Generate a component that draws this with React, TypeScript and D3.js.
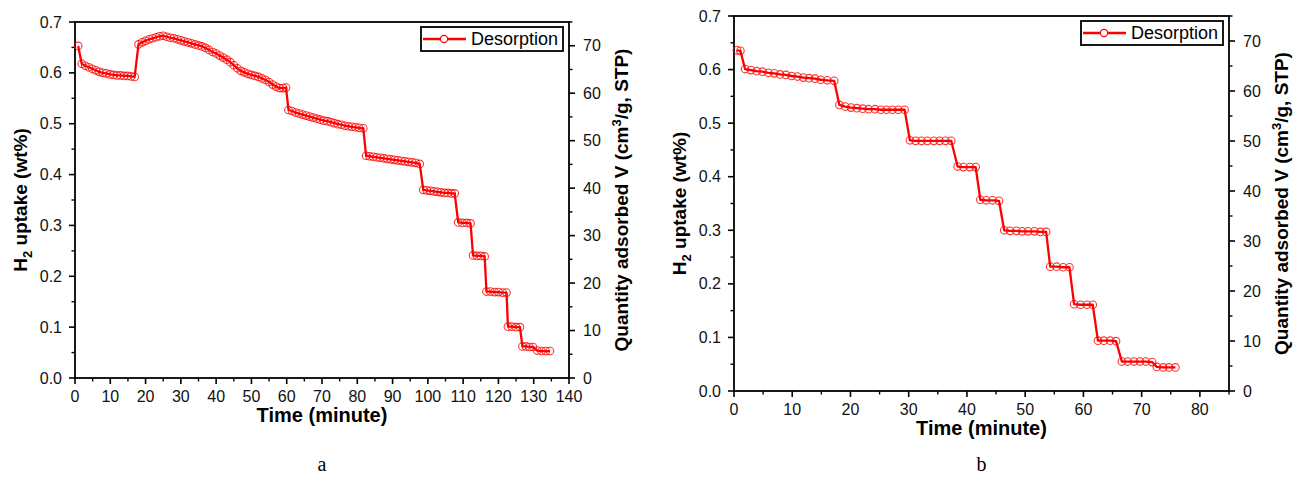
import * as React from "react";
import * as d3 from "d3";

// Run a: desorption over ~135 minutes
const timeA = [
  0.9, 1.9, 2.9, 3.9, 4.9, 5.9, 6.9, 7.9, 8.9, 9.9, 10.9, 11.9, 12.9, 13.9, 14.9, 15.9, 16.9,
  18.0, 19.0, 20.0, 21.0, 22.0, 23.0, 24.0, 25.0, 26.0, 27.0, 28.0, 29.0, 30.0, 31.0, 32.0,
  33.0, 34.0, 35.0, 36.0, 37.0, 38.0, 39.0, 40.0, 41.0, 42.0, 43.0, 44.0, 45.0, 46.0, 47.0,
  48.0, 49.0, 50.0, 51.0, 52.0, 53.0, 54.0, 55.0, 56.0, 57.0, 58.0, 59.0, 59.8,
  60.5, 61.5, 62.5, 63.5, 64.5, 65.5, 66.5, 67.5, 68.5, 69.5, 70.5, 71.5, 72.5, 73.5, 74.5,
  75.5, 76.5, 77.5, 78.5, 79.5, 80.5, 81.7,
  82.5, 83.5, 84.5, 85.5, 86.5, 87.5, 88.5, 89.5, 90.5, 91.5, 92.5, 93.5, 94.5, 95.5, 96.5, 97.7,
  98.7, 99.7, 100.7, 101.7, 102.7, 103.7, 104.7, 105.7, 106.7, 107.6,
  108.6, 109.8, 111.0, 112.1,
  112.8, 113.9, 115.0, 116.1,
  116.6, 117.7, 118.9, 120.0, 121.2, 122.3,
  122.7, 123.8, 125.0, 126.1,
  126.8, 127.8, 128.8, 129.8,
  131.0, 132.2, 133.4, 134.6,
];
const uptakeA = [
  0.653, 0.618, 0.614, 0.611, 0.608, 0.605, 0.602, 0.6, 0.599, 0.597, 0.596, 0.595, 0.595, 0.594, 0.594, 0.593, 0.592,
  0.656, 0.66, 0.663, 0.666, 0.668, 0.67, 0.672, 0.673, 0.671, 0.669, 0.668, 0.666, 0.664, 0.662, 0.66,
  0.658, 0.656, 0.654, 0.652, 0.649, 0.645, 0.641, 0.638, 0.634, 0.63, 0.626, 0.621, 0.615, 0.609, 0.604,
  0.601, 0.598, 0.596, 0.594, 0.592, 0.589, 0.586, 0.582, 0.577, 0.573, 0.57, 0.57, 0.571,
  0.527, 0.525, 0.522, 0.52, 0.518, 0.516, 0.514, 0.512, 0.51, 0.508, 0.506, 0.505, 0.503, 0.501, 0.499,
  0.498, 0.496, 0.495, 0.494, 0.493, 0.492, 0.491,
  0.437, 0.436, 0.435, 0.434, 0.433, 0.432, 0.431, 0.43, 0.429, 0.428, 0.427, 0.426, 0.425, 0.424, 0.423, 0.421,
  0.37, 0.369, 0.368, 0.367, 0.366, 0.365, 0.364, 0.364, 0.363, 0.363,
  0.306, 0.305, 0.305, 0.304,
  0.241, 0.24, 0.24, 0.239,
  0.17, 0.17, 0.169, 0.169, 0.168, 0.168,
  0.101, 0.101, 0.1, 0.1,
  0.062, 0.062, 0.061, 0.061,
  0.054, 0.053, 0.053, 0.053,
];

// Run b: desorption over ~76 minutes
const timeB = [
  0.5, 1.1,
  1.9, 2.9, 3.9, 4.9, 5.9, 6.9, 7.9, 8.9, 9.9, 10.9, 11.9, 12.9, 13.9, 14.9, 16.0, 17.2,
  18.1, 19.1, 20.1, 21.1, 22.1, 23.1, 24.2, 25.2, 26.2, 27.2, 28.2, 29.3,
  30.2, 31.2, 32.2, 33.2, 34.3, 35.3, 36.3, 37.3,
  38.4, 39.4, 40.5, 41.5,
  42.3, 43.3, 44.4, 45.5,
  46.4, 47.4, 48.5, 49.5, 50.5, 51.6, 52.6, 53.6,
  54.3, 55.4, 56.5, 57.6,
  58.4, 59.5, 60.6, 61.6,
  62.5, 63.5, 64.6, 65.6,
  66.6, 67.6, 68.7, 69.7, 70.7, 71.8,
  72.6, 73.7, 74.7, 75.8,
];
const uptakeB = [
  0.636, 0.635,
  0.601, 0.599, 0.597, 0.596, 0.594, 0.593, 0.591, 0.59, 0.588, 0.587, 0.585, 0.584, 0.583, 0.581, 0.58, 0.579,
  0.534, 0.531, 0.529, 0.528, 0.527, 0.526, 0.526, 0.525, 0.525, 0.525, 0.525, 0.525,
  0.468, 0.467, 0.467, 0.467, 0.467, 0.467, 0.467, 0.467,
  0.419, 0.418, 0.418, 0.418,
  0.357, 0.356, 0.356, 0.355,
  0.3, 0.299, 0.299, 0.298, 0.298, 0.298, 0.297, 0.297,
  0.232, 0.232, 0.231, 0.231,
  0.162, 0.161, 0.161, 0.161,
  0.094, 0.094, 0.094, 0.093,
  0.055, 0.055, 0.055, 0.055, 0.055, 0.054,
  0.045, 0.044, 0.044, 0.044,
];

const uptakeTicks = [0, 0.1, 0.2, 0.3, 0.4, 0.5, 0.6, 0.7];
const quantityTicks = [0, 10, 20, 30, 40, 50, 60, 70];
const timeTicksA = [0, 10, 20, 30, 40, 50, 60, 70, 80, 90, 100, 110, 120, 130, 140];
const timeTicksB = [0, 10, 20, 30, 40, 50, 60, 70, 80];

const RED = "#ff0000";
const FONT = "'Liberation Sans', Arial, sans-serif";

function Panel(props) {
  const { left, top, right, bottom, xMax, xTicks, time, uptake, caption } = props;

  const x = d3.scaleLinear().domain([0, xMax]).range([left, right]);
  const y = d3.scaleLinear().domain([0, 0.7]).range([bottom, top]);
  const yQ = d3.scaleLinear().domain([0, 75]).range([bottom, top]);

  const pts = time.map((t, i) => [t, uptake[i]]);
  const line = d3
    .line()
    .x((d) => x(d[0]))
    .y((d) => y(d[1]));

  const xMinor = d3.range(5, xMax + 0.1, 10);
  const yMinor = d3.range(0.05, 0.7, 0.1);
  const qMinor = d3.range(5, 76, 10);
  const fmt = d3.format(".1f");
  const midY = (top + bottom) / 2;

  return (
    <g fontFamily={FONT}>
      {/* frame */}
      <rect
        x={left}
        y={top}
        width={right - left}
        height={bottom - top}
        fill="none"
        stroke="black"
        strokeWidth={1.8}
      />

      {/* bottom axis */}
      {xTicks.map((d) => (
        <g key={"xt" + d}>
          <line x1={x(d)} x2={x(d)} y1={bottom} y2={bottom + 6} stroke="black" strokeWidth={1.6} />
          <text x={x(d)} y={bottom + 24} textAnchor="middle" fontSize={16} fill="#111">
            {d}
          </text>
        </g>
      ))}
      {xMinor.map((d) => (
        <line key={"xm" + d} x1={x(d)} x2={x(d)} y1={bottom} y2={bottom + 3.5} stroke="black" strokeWidth={1.4} />
      ))}
      <text x={(left + right) / 2} y={bottom + 44} textAnchor="middle" fontSize={20} fontWeight="bold">
        Time (minute)
      </text>

      {/* left axis */}
      {uptakeTicks.map((d) => (
        <g key={"yt" + d}>
          <line x1={left - 6} x2={left} y1={y(d)} y2={y(d)} stroke="black" strokeWidth={1.6} />
          <text x={left - 13} y={y(d)} textAnchor="end" dominantBaseline="central" fontSize={16} fill="#111">
            {fmt(d)}
          </text>
        </g>
      ))}
      {yMinor.map((d) => (
        <line key={"ym" + d} x1={left - 3.5} x2={left} y1={y(d)} y2={y(d)} stroke="black" strokeWidth={1.4} />
      ))}
      <text
        transform={`translate(${left - 48}, ${midY}) rotate(-90)`}
        textAnchor="middle"
        fontSize={19}
        fontWeight="bold"
      >
        H<tspan dy={5} fontSize={13}>2</tspan>
        <tspan dy={-5}> uptake (wt%)</tspan>
      </text>

      {/* right axis */}
      {quantityTicks.map((d) => (
        <g key={"qt" + d}>
          <line x1={right} x2={right + 6} y1={yQ(d)} y2={yQ(d)} stroke="black" strokeWidth={1.6} />
          <text x={right + 14} y={yQ(d)} textAnchor="start" dominantBaseline="central" fontSize={16} fill="#111">
            {d}
          </text>
        </g>
      ))}
      {qMinor.map((d) => (
        <line key={"qm" + d} x1={right} x2={right + 3.5} y1={yQ(d)} y2={yQ(d)} stroke="black" strokeWidth={1.4} />
      ))}
      <text
        transform={`translate(${right + 59}, ${midY}) rotate(-90)`}
        textAnchor="middle"
        fontSize={19}
        fontWeight="bold"
      >
        Quantity adsorbed V (cm<tspan dy={-7} fontSize={13}>3</tspan>
        <tspan dy={7}>/g, STP)</tspan>
      </text>

      {/* series */}
      <path d={line(pts)} fill="none" stroke={RED} strokeWidth={2.3} strokeLinejoin="round" />
      {pts.map((d, i) => (
        <circle key={i} cx={x(d[0])} cy={y(d[1])} r={3.8} fill="none" stroke={RED} strokeWidth={1.1} strokeOpacity={0.8} />
      ))}

      {/* legend */}
      <g transform={`translate(${right - 148}, ${top + 5})`}>
        <rect width={142} height={24} fill="white" stroke="black" strokeWidth={1.8} />
        <line x1={2} x2={45} y1={12} y2={12} stroke={RED} strokeWidth={2.3} />
        <circle cx={23} cy={12} r={3.6} fill="white" stroke={RED} strokeWidth={1.2} />
        <text x={50} y={12} dominantBaseline="central" fontSize={18}>
          Desorption
        </text>
      </g>

      <text x={(left + right) / 2} y={471} textAnchor="middle" fontSize={20} fontFamily="'Liberation Serif', serif">
        {caption}
      </text>
    </g>
  );
}

export default function App() {
  return (
    <svg
      width={1301}
      height={487}
      style={{ position: "absolute", left: 0, top: 0, background: "white" }}
    >
      <Panel
        left={75}
        top={22}
        right={569}
        bottom={378}
        xMax={140}
        xTicks={timeTicksA}
        time={timeA}
        uptake={uptakeA}
        caption="a"
      />
      <Panel
        left={734}
        top={16}
        right={1229}
        bottom={391}
        xMax={85}
        xTicks={timeTicksB}
        time={timeB}
        uptake={uptakeB}
        caption="b"
      />
    </svg>
  );
}
